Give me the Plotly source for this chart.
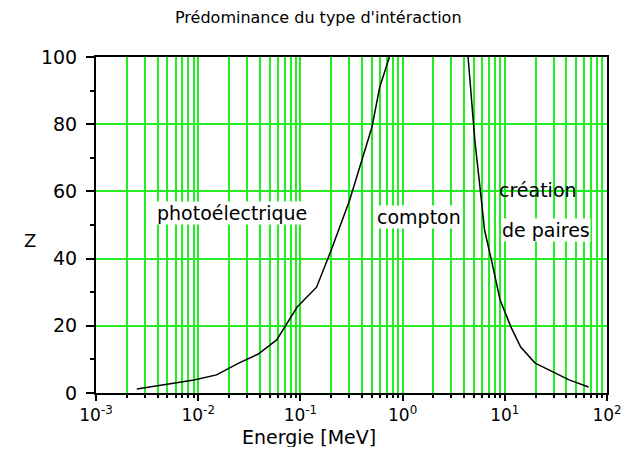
import plotly.graph_objects as go

# Boundary photoélectrique / compton
e_photo = [0.00251, 0.00505, 0.0091, 0.0151, 0.0249, 0.0387, 0.0586, 0.093, 0.144, 0.2, 0.303, 0.5, 0.597, 0.743]
z_photo = [1.2, 2.6, 3.9, 5.4, 8.9, 11.6, 15.8, 25.6, 31.5, 42.5, 57.4, 79, 91, 100]

# Boundary compton / création de paires
e_paires = [4.37, 4.78, 5.1, 5.8, 6.34, 7.39, 9.0, 11.5, 14.3, 19.8, 27.5, 42.6, 66]
z_paires = [100, 85, 75, 59.5, 48.5, 39.6, 27.7, 19.6, 13.7, 8.9, 6.8, 3.9, 1.8]

x_tick_vals = [1e-3, 1e-2, 1e-1, 1, 10, 100]
x_tick_text = ["10<sup>-3</sup>", "10<sup>-2</sup>", "10<sup>-1</sup>",
               "10<sup>0</sup>", "10<sup>1</sup>", "10<sup>2</sup>"]
y_tick_vals = [0, 20, 40, 60, 80, 100]

FONT = "DejaVu Sans"
GREEN = "#22ee22"

fig = go.Figure()
for xs, ys in [(e_photo, z_photo), (e_paires, z_paires)]:
    fig.add_trace(go.Scatter(x=xs, y=ys, mode="lines",
                             line=dict(color="black", width=1.5),
                             showlegend=False, hoverinfo="skip"))

# page body has an 8px margin on every side: size the figure to the body
fig.update_layout(
    width=621, height=439,
    margin=dict(l=88, r=7, t=49, b=54),
    paper_bgcolor="white", plot_bgcolor="white",
    font=dict(family=FONT, size=18, color="black"),
    showlegend=False,
)

fig.update_xaxes(
    type="log", range=[-3, 2],
    tickvals=x_tick_vals, ticktext=x_tick_text, ticklabeloverflow="allow",
    ticks="outside", ticklen=6, tickwidth=1.5, tickcolor="black",
    showgrid=True, gridcolor=GREEN, gridwidth=1.5,
    minor=dict(dtick="D1", showgrid=True, gridcolor=GREEN, gridwidth=1.5,
               ticks="outside", ticklen=3, tickcolor="black"),
    showline=True, linecolor="black", linewidth=2, mirror=True,
    zeroline=False, tickfont=dict(family=FONT, size=17),
)
fig.update_yaxes(
    range=[0, 100], tickvals=y_tick_vals,
    ticks="outside", ticklen=8, tickwidth=1.5, tickcolor="black",
    showgrid=True, gridcolor=GREEN, gridwidth=1.5,
    minor=dict(dtick=10, ticks="outside", ticklen=4, tickcolor="black", showgrid=False),
    showline=True, linecolor="black", linewidth=2, mirror=True,
    zeroline=False, tickfont=dict(family=FONT, size=19), ticklabelstandoff=5,
)

annots = [
    dict(text="Prédominance du type d'intéraction", xref="paper", yref="paper",
         x=0.435, y=1 + 39 / 336, font=dict(size=16)),
    dict(text="Energie [MeV]", xref="paper", yref="paper",
         x=0.416, y=-44 / 336, font=dict(size=19)),
    dict(text="Z", xref="paper", yref="paper", x=-68 / 526, y=153 / 336, font=dict(size=18)),
    dict(text="photoélectrique", x=-1.669, y=53.6, bgcolor="white", font=dict(size=19)),
    dict(text="compton", x=0.156, y=52.4, bgcolor="white", font=dict(size=19)),
    dict(text="création", x=1.325, y=60.4, font=dict(size=19)),
    dict(text="de paires", x=1.40, y=48.5, bgcolor="white", font=dict(size=19)),
]
for a in annots:
    a.setdefault("xref", "x")
    a.setdefault("yref", "y")
    a.update(showarrow=False, xanchor="center", yanchor="middle", borderpad=0)
    fig.add_annotation(**a)

fig.write_html("out.html")
